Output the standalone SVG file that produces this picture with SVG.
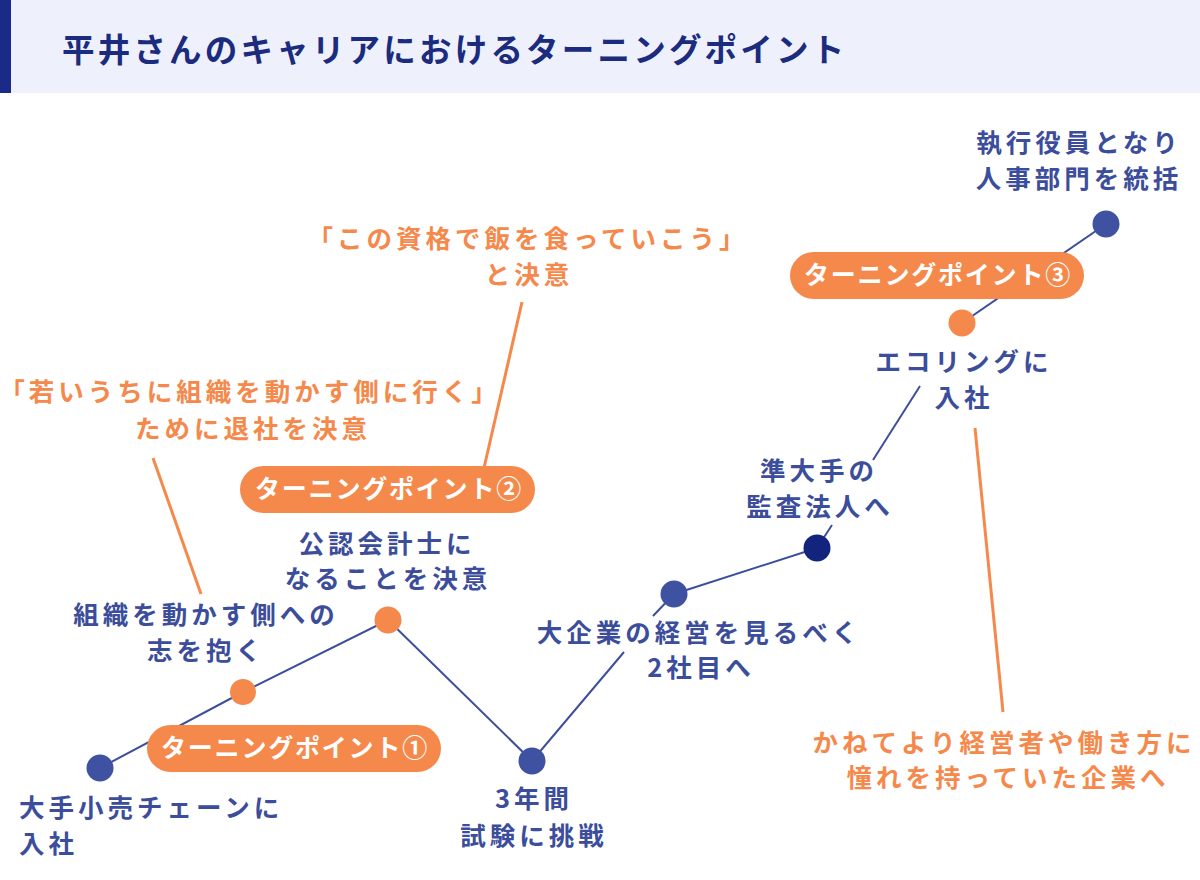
<svg xmlns="http://www.w3.org/2000/svg" width="1200" height="880" viewBox="0 0 1200 880">
<style>
.t{font-family:"Noto Sans CJK JP","Noto Sans",sans-serif;font-weight:700;font-size:25.5px;letter-spacing:4px}
.b{fill:#3b4d9b}
.o{fill:#f5894c}
.m{text-anchor:middle}
.p{fill:#ffffff;font-size:25px;letter-spacing:1.8px;text-anchor:middle}
.pill{fill:#f5894c}
.ln{stroke:#3d4f9c;stroke-width:2;fill:none}
.ol{stroke:#f5894c;stroke-width:3;fill:none}
.nb{fill:#3f52a2}
.nd{fill:#13247f}
.no{fill:#f5894c}
</style>
<g id="header">
<rect x="0" y="0" width="1200" height="93" fill="#eef0fb"/>
<rect x="0" y="0" width="11" height="93" fill="#1a2a86"/>
<text x="62" y="62" font-family="'Noto Sans CJK JP','Noto Sans',sans-serif" font-weight="700" font-size="32.5" letter-spacing="3.2" fill="#1b2b7e">平井さんのキャリアにおけるターニングポイント</text>
</g>
<g id="connectors">
<polyline class="ln" points="100,768 243,692 388,620 532,761 624,652"/>
<line class="ln" x1="653" y1="616" x2="674" y2="594"/>
<line class="ln" x1="674" y1="594" x2="817" y2="548"/>
<line class="ln" x1="817" y1="548" x2="832" y2="525"/>
<line class="ln" x1="873" y1="460" x2="920" y2="386"/>
<line class="ln" x1="962" y1="323" x2="1106" y2="224"/>
<line class="ol" x1="153" y1="458" x2="201" y2="594"/>
<line class="ol" x1="522" y1="302" x2="484" y2="468"/>
<line class="ol" x1="975" y1="428" x2="1003" y2="712"/>
</g>
<g id="tp1">
<rect class="pill" x="147" y="725" width="294" height="47" rx="23.5"/>
<text class="t p" x="295" y="757">ターニングポイント①</text>
</g>
<g id="tp2">
<rect class="pill" x="240" y="466" width="295" height="47" rx="23.5"/>
<text class="t p" x="389" y="498">ターニングポイント②</text>
</g>
<g id="tp3">
<rect class="pill" x="790" y="252" width="294" height="47" rx="23.5"/>
<text class="t p" x="938" y="284">ターニングポイント③</text>
</g>
<g id="n1">
<circle class="nb" cx="100" cy="768" r="13.5"/>
<text class="t b" x="19" y="817">大手小売チェーンに</text>
<text class="t b" x="19" y="853">入社</text>
</g>
<g id="n2">
<circle class="no" cx="243" cy="692" r="13"/>
<text class="t b m" x="206" y="624">組織を動かす側への</text>
<text class="t b m" x="206" y="660">志を抱く</text>
</g>
<g id="n3">
<circle class="no" cx="388" cy="620" r="13.5"/>
<text class="t b m" x="387" y="553">公認会計士に</text>
<text class="t b m" x="388" y="588">なることを決意</text>
</g>
<g id="n4">
<circle class="nb" cx="532" cy="761" r="13.5"/>
<text class="t b m" x="534" y="808">3年間</text>
<text class="t b m" x="534" y="845">試験に挑戦</text>
</g>
<g id="n5">
<circle class="nb" cx="674" cy="594" r="13.5"/>
<text class="t b m" x="699" y="642">大企業の経営を見るべく</text>
<text class="t b m" x="701" y="677">2社目へ</text>
</g>
<g id="n6">
<circle class="nd" cx="817" cy="548" r="13.5"/>
<text class="t b m" x="819" y="480">準大手の</text>
<text class="t b m" x="820" y="516">監査法人へ</text>
</g>
<g id="n7">
<circle class="no" cx="962" cy="323" r="13.5"/>
<text class="t b m" x="964" y="371">エコリングに</text>
<text class="t b m" x="964" y="407">入社</text>
</g>
<g id="n8">
<circle class="nb" cx="1106" cy="224" r="13.5"/>
<text class="t b m" x="1079" y="152">執行役員となり</text>
<text class="t b m" x="1079" y="188">人事部門を統括</text>
</g>
<g id="note1">
<text class="t o m" x="250" y="401">「若いうちに組織を動かす側に行く」</text>
<text class="t o m" x="253" y="438">ために退社を決意</text>
</g>
<g id="note2">
<text class="t o m" x="528" y="248">「この資格で飯を食っていこう」</text>
<text class="t o m" x="529" y="284">と決意</text>
</g>
<g id="note3">
<text class="t o m" x="1004" y="752">かねてより経営者や働き方に</text>
<text class="t o m" x="1008" y="787">憧れを持っていた企業へ</text>
</g>
</svg>
